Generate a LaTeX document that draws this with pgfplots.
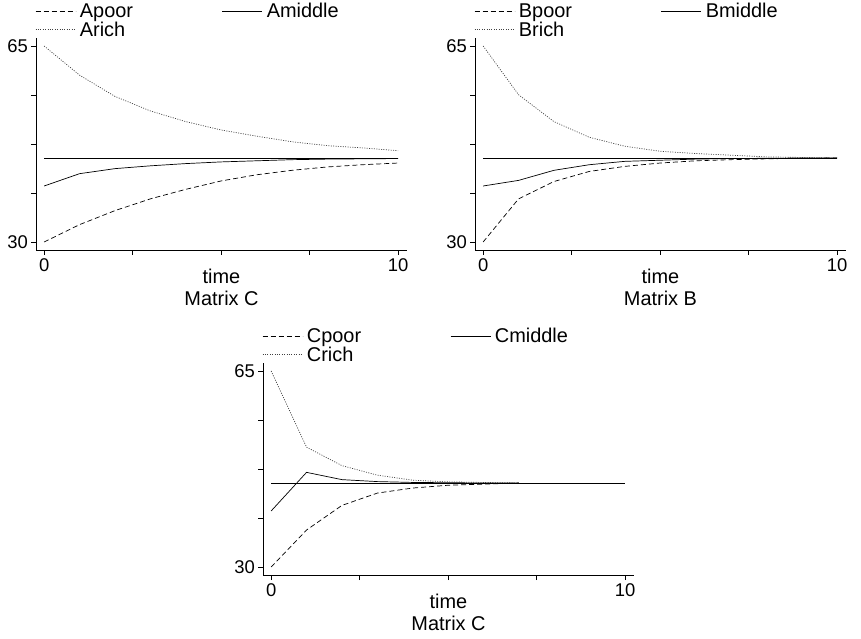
\documentclass[border=0pt]{standalone}
\usepackage{fontspec}
\setmainfont{Liberation Sans}
\usepackage{pgfplots}
\usepackage{pgfplotstable}
\pgfplotsset{compat=1.18}

\pgfplotstableread{
x poor middle rich
0 30 40 65
1 33.1 42.2 59.8
2 35.6 43.1 56.0
3 37.7 43.6 53.4
4 39.4 44.0 51.5
5 40.9 44.3 50.0
6 42.0 44.5 48.9
7 42.8 44.7 47.9
8 43.4 44.8 47.2
9 43.8 44.85 46.8
10 44.1 44.9 46.3
}\tabA
\pgfplotstableread{
x poor middle rich
0 30 40 65
1 37.7 41.0 56.3
2 40.8 42.8 51.5
3 42.6 43.8 48.7
4 43.5 44.4 47.1
5 44.1 44.6 46.2
6 44.5 44.8 45.8
7 44.7 44.9 45.5
8 44.85 44.95 45.2
9 44.95 45.0 45.1
10 45 45 45.0
}\tabB
\pgfplotstableread{
x poor middle rich
0 30 40 65
1 36.6 46.9 51.4
2 41.0 45.6 48.1
3 43.2 45.25 46.4
4 44.1 45.1 45.5
5 44.6 45.05 45.2
6 44.8 45.0 45.1
7 45.0 45.0 45.0
}\tabC

\pgfplotsset{
  panel/.style={
    scale only axis, width=371bp, height=212bp,
    xmin=-0.23, xmax=10.25, ymin=28.57, ymax=66.43,
    axis x line*=bottom, axis y line*=left,
    axis line style={-, line width=0.6bp},
    xtick={0,2.5,5,7.5,10}, xticklabels={0,,,,10},
    ytick={30,38.75,47.5,56.25,65}, yticklabels={30,,,,65},
    tick align=outside, major tick length=5bp,
    tick style={black, line width=0.6bp},
    /pgf/number format/assume math mode=true,
    tick label style={font=\fontsize{18.5}{20}\selectfont},
    xticklabel style={inner sep=0bp, yshift=-3bp},
    yticklabel style={inner sep=0bp, xshift=-3bp},
    xlabel style={font=\fontsize{20}{22.5}\selectfont, align=center, inner sep=0bp,
      at={(axis description cs:0.5,0)}, anchor=north, yshift=-18.5bp},
    legend columns=2, legend cell align=left,
    legend style={draw=none, fill=none, inner sep=0bp, font=\fontsize{20}{22}\selectfont,
      at={(axis description cs:0,1)}, anchor=south west, xshift=-1bp, yshift=0bp,
      nodes={inner sep=0bp}, row sep=2.5bp,
      /tikz/every odd column/.append style={column sep=4bp},
      /tikz/every even column/.append style={column sep=89bp}},
    legend image code/.code={\draw[#1] (0bp,0bp) -- (40bp,0bp);},
  },
  poor/.style={black, line width=0.7bp, dash pattern=on 5bp off 3bp},
  middle/.style={black, line width=0.7bp},
  rich/.style={black!75, line width=0.7bp, dash pattern=on 1bp off 1.4bp},
  avg/.style={black, line width=0.7bp},
}

\begin{document}
\begin{tikzpicture}
\useasboundingbox (0,0) rectangle (861bp,639bp);

\begin{axis}[panel, at={(36bp,389bp)}, anchor=south west, xlabel={time\\Matrix C}]
\addplot[poor] table[x=x, y=poor] {\tabA};
\addlegendentry{Apoor}
\addplot[middle] table[x=x, y=middle] {\tabA};
\addlegendentry{Amiddle}
\addplot[rich] table[x=x, y=rich] {\tabA};
\addlegendentry{Arich}
\addplot[avg, forget plot] coordinates {(0,45) (10,45)};
\end{axis}

\begin{axis}[panel, at={(475bp,389bp)}, anchor=south west, xlabel={time\\Matrix B}]
\addplot[poor] table[x=x, y=poor] {\tabB};
\addlegendentry{Bpoor}
\addplot[middle] table[x=x, y=middle] {\tabB};
\addlegendentry{Bmiddle}
\addplot[rich] table[x=x, y=rich] {\tabB};
\addlegendentry{Brich}
\addplot[avg, forget plot] coordinates {(0,45) (10,45)};
\end{axis}

\begin{axis}[panel, at={(263bp,64bp)}, anchor=south west, xlabel={time\\Matrix C}]
\addplot[poor] table[x=x, y=poor] {\tabC};
\addlegendentry{Cpoor}
\addplot[middle] table[x=x, y=middle] {\tabC};
\addlegendentry{Cmiddle}
\addplot[rich] table[x=x, y=rich] {\tabC};
\addlegendentry{Crich}
\addplot[avg, forget plot] coordinates {(0,45) (10,45)};
\end{axis}
\end{tikzpicture}
\end{document}
